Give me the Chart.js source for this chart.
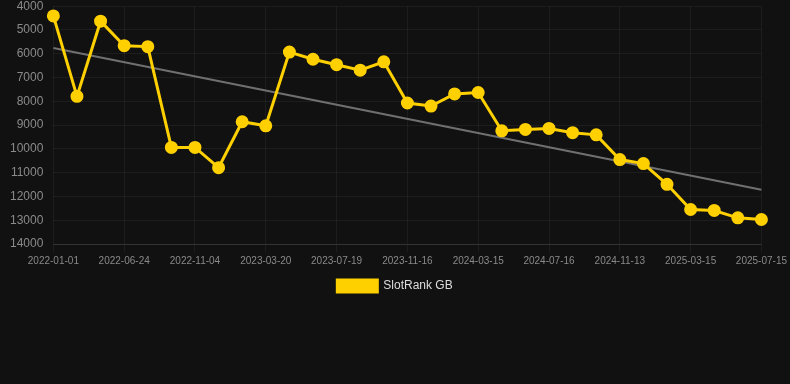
<!DOCTYPE html>
<html>
<head>
<meta charset="utf-8">
<script src="https://cdn.jsdelivr.net/npm/chart.js@4/dist/chart.umd.min.js"></script>
<style>
  html, body { margin: 0; padding: 0; background: #111111; overflow: hidden; }
  #wrap { width: 790px; height: 313px; position: relative; margin-top: -11px; }
</style>
</head>
<body>
<div id="wrap"><canvas id="c"></canvas></div>
<script>
const labels = [
  "2022-01-01","2022-02-28","2022-04-27","2022-06-24","2022-08-07","2022-09-21",
  "2022-11-04","2022-12-19","2023-02-02","2023-03-20","2023-05-01","2023-06-10",
  "2023-07-19","2023-08-28","2023-10-07","2023-11-16","2023-12-26","2024-02-04",
  "2024-03-15","2024-04-25","2024-06-05","2024-07-16","2024-08-25","2024-10-04",
  "2024-11-13","2024-12-23","2025-02-02","2025-03-15","2025-04-25","2025-06-05",
  "2025-07-15"
];
const rankGB = [
  4410, 7790, 4630, 5660, 5700, 9940, 9940, 10790, 8860, 9030,
  5930, 6230, 6460, 6690, 6340, 8070, 8200, 7690, 7630, 9240,
  9180, 9140, 9320, 9410, 10450, 10620, 11490, 12550, 12590, 12900,
  12970
];
const trendStart = 5760;
const trendEnd = 11720;
const yTicks = [4000,5000,6000,7000,8000,9000,10000,11000,12000,13000,14000];

const trendData = labels.map((_, i) => i === 0 ? trendStart : (i === labels.length - 1 ? trendEnd : null));

new Chart(document.getElementById('c'), {
  type: 'line',
  data: {
    labels: labels,
    datasets: [
      {
        label: 'SlotRank GB',
        data: rankGB,
        borderColor: '#FFD000',
        backgroundColor: '#FFD000',
        borderWidth: 3,
        pointRadius: 5,
        pointHoverRadius: 5,
        pointBackgroundColor: '#FFD000',
        pointBorderColor: '#FFD000',
        tension: 0,
        order: 1
      },
      {
        label: 'trend',
        data: trendData,
        spanGaps: true,
        borderColor: '#707070',
        borderWidth: 2,
        pointRadius: 0,
        pointHoverRadius: 0,
        fill: false,
        order: 2
      }
    ]
  },
  options: {
    responsive: true,
    maintainAspectRatio: false,
    animation: false,
    layout: { padding: { left: 0, right: 0, top: 0, bottom: 0 } },
    plugins: {
      legend: {
        position: 'bottom',
        labels: {
          color: '#dddddd',
          font: { family: 'Liberation Sans, Arial, sans-serif', size: 12 },
          boxWidth: 40,
          boxHeight: 12,
          filter: (item) => item.text !== 'trend'
        }
      },
      tooltip: { enabled: false }
    },
    scales: {
      x: {
        offset: false,
        grid: { color: 'rgba(255,255,255,0.05)', drawTicks: true, tickLength: 8 },
        border: { color: 'rgba(255,255,255,0.1)' },
        ticks: {
          color: '#8a8a8a',
          font: { family: 'Liberation Sans, Arial, sans-serif', size: 10 },
          autoSkip: false,
          maxRotation: 0,
          minRotation: 0,
          callback: function(val, idx) { return idx % 3 === 0 ? labels[idx] : null; }
        }
      },
      y: {
        reverse: true,
        min: yTicks[0],
        max: yTicks[yTicks.length - 1],
        afterBuildTicks: (axis) => { axis.ticks = yTicks.map(v => ({ value: v })); },
        grid: { color: 'rgba(255,255,255,0.05)', drawTicks: false },
        border: { display: false },
        ticks: {
          color: '#8a8a8a',
          padding: 10,
          font: { family: 'Liberation Sans, Arial, sans-serif', size: 12 },
          callback: (v) => String(v)
        }
      }
    }
  }
});
</script>
</body>
</html>
